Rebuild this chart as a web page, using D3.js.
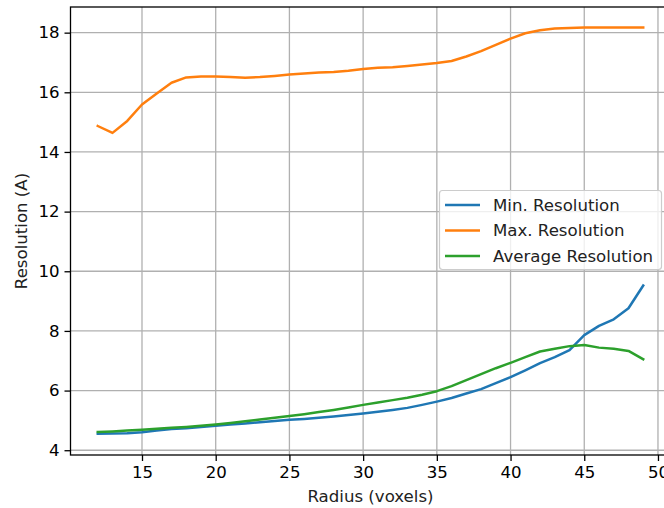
<!DOCTYPE html>
<html>
<head>
<meta charset="utf-8">
<script src="https://cdn.jsdelivr.net/npm/d3@7"></script>
<style>
html,body{margin:0;padding:0;background:#fff;overflow:hidden;}
text{font-family:"DejaVu Sans",sans-serif;fill:#000;}
</style>
</head>
<body>
<svg id="chart" width="664" height="508"></svg>
<script>
const radius = [12,13,14,15,16,17,18,19,20,21,22,23,24,25,26,27,28,29,30,31,32,33,34,35,36,37,38,39,40,41,42,43,44,45,46,47,48,49];
const minResolution = [4.55,4.56,4.57,4.60,4.66,4.71,4.74,4.78,4.82,4.86,4.90,4.94,4.98,5.02,5.05,5.09,5.13,5.18,5.23,5.29,5.35,5.42,5.52,5.63,5.75,5.90,6.05,6.25,6.45,6.68,6.92,7.12,7.36,7.86,8.17,8.39,8.76,9.52];
const maxResolution = [14.87,14.64,15.04,15.59,15.96,16.32,16.50,16.53,16.53,16.51,16.49,16.51,16.55,16.60,16.63,16.66,16.68,16.72,16.78,16.82,16.84,16.88,16.93,16.98,17.05,17.20,17.38,17.59,17.80,17.98,18.08,18.14,18.16,18.17,18.17,18.17,18.17,18.17];
const avgResolution = [4.61,4.63,4.66,4.69,4.72,4.75,4.78,4.82,4.86,4.91,4.97,5.03,5.09,5.15,5.21,5.28,5.35,5.43,5.52,5.60,5.68,5.76,5.86,5.98,6.15,6.35,6.55,6.75,6.93,7.12,7.31,7.40,7.49,7.53,7.44,7.40,7.33,7.05];
const seriesNames = ["Min. Resolution","Max. Resolution","Average Resolution"];
const seriesColors = ["#1f77b4","#ff7f0e","#2ca02c"];
const xTicks = [15,20,25,30,35,40,45,50];
const yTicks = [4,6,8,10,12,14,16,18];
const xLabel = "Radius (voxels)";
const yLabel = "Resolution (A)";

const series = [minResolution, maxResolution, avgResolution];
const svg = d3.select("#chart");
const L = 70.5, R = 670.5, T = 7, B = 455;
const FS = 16.6;

const xs = d3.scaleLinear().domain([10.15, 50.85]).range([L, R]);
const ys = d3.scaleLinear().domain([3.84, 18.86]).range([B, T]);

// grid
const grid = svg.append("g");
xTicks.forEach(t => grid.append("line").attr("x1", xs(t)).attr("x2", xs(t)).attr("y1", T).attr("y2", B)
  .attr("stroke", "#b0b0b0").attr("stroke-width", 1.3));
yTicks.forEach(t => grid.append("line").attr("x1", L).attr("x2", R).attr("y1", ys(t)).attr("y2", ys(t))
  .attr("stroke", "#b0b0b0").attr("stroke-width", 1.3));

// lines
const line = d3.line().x((d, i) => xs(radius[i])).y(d => ys(d));
series.forEach((s, k) => {
  svg.append("path").datum(s).attr("d", line).attr("fill", "none")
    .attr("stroke", seriesColors[k]).attr("stroke-width", 2.5).attr("stroke-linejoin", "round").attr("stroke-linecap", "square");
});

// spines
svg.append("rect").attr("x", L).attr("y", T).attr("width", R - L).attr("height", B - T)
  .attr("fill", "none").attr("stroke", "#000").attr("stroke-width", 1.3);

// axes
const xAxis = d3.axisBottom(xs).tickValues(xTicks).tickSize(6).tickPadding(5).tickFormat(d3.format("d"));
const gx = svg.append("g").attr("transform", `translate(0,${B})`).call(xAxis);
const yAxis = d3.axisLeft(ys).tickValues(yTicks).tickSize(6).tickPadding(5).tickFormat(d3.format("d"));
const gy = svg.append("g").attr("transform", `translate(${L},0)`).call(yAxis);
[gx, gy].forEach(g => {
  g.select(".domain").remove();
  g.selectAll(".tick line").attr("stroke", "#000").attr("stroke-width", 1.3);
  g.selectAll(".tick text").style("font-family", "DejaVu Sans").style("font-size", FS + "px").attr("fill", "#222");
});

// labels
svg.append("text").attr("x", (L + R) / 2).attr("y", 502).attr("text-anchor", "middle")
  .style("font-size", FS + "px").style("fill", "#222").text(xLabel);
svg.append("text").attr("transform", `translate(27,${(T + B) / 2}) rotate(-90)`).attr("text-anchor", "middle")
  .style("font-size", FS + "px").style("fill", "#222").text(yLabel);

// legend
const lg = svg.append("g");
lg.append("rect").attr("x", 439.5).attr("y", 190.5).attr("width", 222).attr("height", 79).attr("rx", 3)
  .attr("fill", "rgba(255,255,255,0.8)").attr("stroke", "#cccccc").attr("stroke-width", 1.2);
seriesNames.forEach((n, k) => {
  const cy = 205 + k * 25.5;
  lg.append("line").attr("x1", 445).attr("x2", 480).attr("y1", cy).attr("y2", cy)
    .attr("stroke", seriesColors[k]).attr("stroke-width", 2.5);
  lg.append("text").attr("x", 493).attr("y", cy).attr("dy", "0.36em").style("font-size", FS + "px").style("fill", "#222").text(n);
});
</script>
</body>
</html>
